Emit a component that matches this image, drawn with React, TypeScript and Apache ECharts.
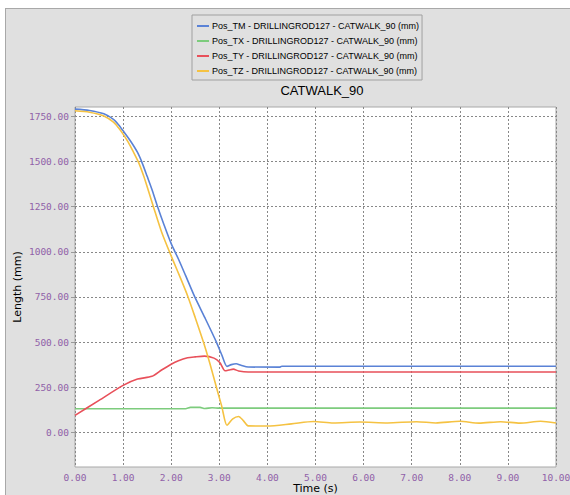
import React, { useEffect, useRef } from "react";
import * as echarts from "echarts";

const seriesNames = [
  "Pos_TM - DRILLINGROD127 - CATWALK_90 (mm)",
  "Pos_TX - DRILLINGROD127 - CATWALK_90 (mm)",
  "Pos_TY - DRILLINGROD127 - CATWALK_90 (mm)",
  "Pos_TZ - DRILLINGROD127 - CATWALK_90 (mm)",
];
const seriesColors = ["#5a82d6", "#7dcc7d", "#e8505a", "#f5c242"];

const posTM: number[][] = [
  [0, 1790], [0.3, 1783], [0.6, 1764], [0.8, 1733], [0.9, 1705], [1.0, 1670],
  [1.15, 1615], [1.3, 1550], [1.4, 1490], [1.5, 1418], [1.6, 1345], [1.71, 1255],
  [1.85, 1150], [2.0, 1045], [2.15, 960], [2.3, 868], [2.49, 750], [2.7, 635],
  [2.94, 500], [3.05, 430], [3.16, 365], [3.25, 375], [3.35, 380], [3.45, 372],
  [3.6, 362], [4.25, 361], [4.3, 366], [10, 366],
];
const posTX: number[][] = [
  [0, 131], [2.3, 131], [2.4, 138], [2.6, 138], [2.7, 132], [2.85, 136], [3.0, 134], [10, 134],
];
const posTY: number[][] = [
  [0, 94], [0.5, 177], [1.0, 260], [1.3, 295], [1.6, 310], [1.8, 345], [1.99, 376],
  [2.15, 397], [2.34, 413], [2.5, 418], [2.69, 422], [2.89, 411], [3.01, 387],
  [3.12, 341], [3.2, 345], [3.29, 350], [3.4, 340], [3.6, 334], [10, 334],
];
const posTZ: number[][] = [
  [0, 1781], [0.3, 1773], [0.6, 1752], [0.8, 1718], [0.9, 1688], [1.0, 1652],
  [1.1, 1610], [1.2, 1560], [1.33, 1490], [1.43, 1418], [1.53, 1335], [1.63, 1250],
  [1.8, 1110], [2.04, 951], [2.2, 850], [2.35, 750], [2.5, 635], [2.67, 500],
  [2.8, 385], [2.94, 250], [3.05, 145], [3.16, 39], [3.28, 75], [3.4, 88], [3.5, 65],
  [3.6, 36], [4.0, 35], [4.5, 47], [4.96, 60], [5.37, 52], [5.92, 57], [6.5, 52],
  [7.1, 59], [7.5, 52], [8.0, 61], [8.4, 51], [8.85, 59], [9.25, 51], [9.68, 61], [10, 52],
];
const yTicks = [0, 250, 500, 750, 1000, 1250, 1500, 1750];

const labelColor = "#9060a8";
const monoFont = "DejaVu Sans Mono";

export default function App() {
  const ref = useRef<HTMLDivElement>(null);
  useEffect(() => {
    if (!ref.current) return;
    const chart = echarts.init(ref.current, undefined, { renderer: "svg" });
    const data = [posTM, posTX, posTY, posTZ];
    chart.setOption({
      animation: false,
      backgroundColor: "transparent",
      title: {
        text: "CATWALK_90",
        left: 311,
        textAlign: "center",
        top: 70,
        textStyle: { fontFamily: "Liberation Sans", fontSize: 13, fontWeight: "normal", color: "#000" },
      },
      legend: {
        orient: "vertical",
        left: 186,
        top: 6,
        padding: [6, 3, 4, 5],
        borderColor: "#a0a0a0",
        borderWidth: 1,
        itemWidth: 12,
        itemHeight: 2,
        itemGap: 5,
        icon: "rect",
        data: seriesNames.map((n, i) => ({
          name: n,
          itemStyle: { color: seriesColors[i] },
        })),
        textStyle: { fontFamily: "Liberation Sans", fontSize: 9, lineHeight: 10, color: "#000", padding: [0, 0, 0, -2] },
      },
      grid: {
        left: 69,
        top: 98,
        right: 14,
        bottom: 28,
        outerBoundsMode: "none",
        containLabel: false,
        show: true,
        backgroundColor: "#ffffff",
        borderColor: "#a8a8a8",
        borderWidth: 1,
      },
      xAxis: {
        type: "value",
        min: 0,
        max: 10,
        interval: 1,
        name: "Time (s)",
        nameLocation: "middle",
        nameGap: 16,
        nameMoveOverlap: false,
        nameTextStyle: { fontFamily: "DejaVu Sans", fontSize: 11, color: "#000", verticalAlign: "top" },
        axisLine: { show: false },
        axisTick: { show: true, length: 3, lineStyle: { color: "#999" } },
        axisLabel: {
          margin: 5,
          fontFamily: monoFont,
          fontSize: 9.5,
          color: labelColor,
          formatter: (v: number) => v.toFixed(2),
        },
        splitLine: { show: true, lineStyle: { color: "#888", type: [2, 2], width: 1 } },
      },
      yAxis: {
        type: "value",
        min: -192,
        max: 1802,
        name: "Length (mm)",
        nameLocation: "middle",
        nameGap: 58,
        nameMoveOverlap: false,
        nameTextStyle: { fontFamily: "DejaVu Sans", fontSize: 11, color: "#000", verticalAlign: "middle" },
        axisLine: { show: false },
        axisTick: { show: true, length: 4, customValues: yTicks, lineStyle: { color: "#999" } },
        axisLabel: {
          margin: 6,
          fontFamily: monoFont,
          fontSize: 9.5,
          color: labelColor,
          customValues: yTicks,
          formatter: (v: number) => v.toFixed(2),
        },
        splitLine: { show: true, lineStyle: { color: "#888", type: [2, 2], width: 1 } },
      },
      series: data.map((d, i) => ({
        name: seriesNames[i],
        type: "line",
        data: d,
        showSymbol: false,
        smooth: 0.25,
        lineStyle: { color: seriesColors[i], width: 1.6 },
        itemStyle: { color: seriesColors[i] },
      })),
    });
    return () => chart.dispose();
  }, []);
  return (
    <div style={{ position: "fixed", left: 0, top: 0, width: 570, height: 495, background: "#fff" }}>
      <div
        style={{
          position: "absolute",
          left: 5,
          top: 8,
          width: 565,
          height: 487,
          background: "#e0e0e0",
          borderLeft: "1px solid #a8a8a8",
          borderTop: "1px solid #a8a8a8",
          boxSizing: "border-box",
        }}
      >
        <div ref={ref} style={{ position: "absolute", left: 0, top: 0, width: 564, height: 486 }} />
      </div>
    </div>
  );
}
